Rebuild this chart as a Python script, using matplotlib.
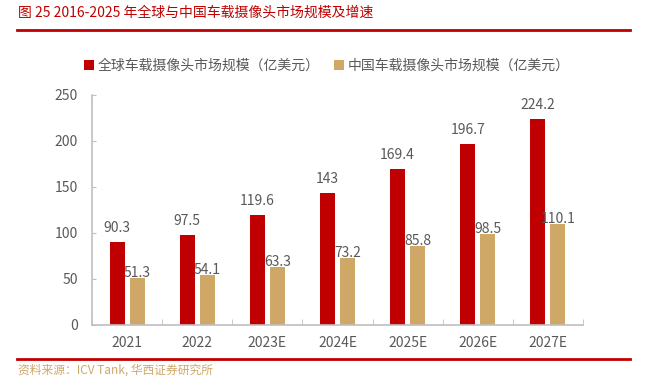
import matplotlib
matplotlib.use("Agg")
import matplotlib.pyplot as plt
import numpy as np

plt.rcParams['font.family'] = ['Noto Sans CJK SC', 'DejaVu Sans']

# data
years = ['2021', '2022', '2023E', '2024E', '2025E', '2026E', '2027E']
global_market = [90.3, 97.5, 119.6, 143, 169.4, 196.7, 224.2]
china_market = [51.3, 54.1, 63.3, 73.2, 85.8, 98.5, 110.1]

red = '#C00000'
tan = '#CFA868'
grey = '#595959'

W, H = 651, 379
fig = plt.figure(figsize=(W / 100, H / 100), dpi=100)

# axes: x 92..583 px, y 95..325 px
ax = fig.add_axes([92 / W, 1 - 325 / H, (583 - 92) / W, (325 - 95) / H])

x = np.arange(len(years))
bw = 0.215
off = 0.143
ax.bar(x - off, global_market, bw, color=red, label='全球车载摄像头市场规模（亿美元）')
ax.bar(x + off, china_market, bw, color=tan, label='中国车载摄像头市场规模（亿美元）')

for xi, v in zip(x, global_market):
    ax.annotate(f'{v:g}', (xi - off, v), xytext=(0, 5), textcoords='offset points',
                ha='center', va='bottom', fontsize=10, color=grey)
for xi, v in zip(x, china_market):
    ax.annotate(f'{v:g}', (xi + off, v), xytext=(0, -1.5), textcoords='offset points',
                ha='center', va='bottom', fontsize=10, color=grey)

ax.set_xlim(-0.5, len(years) - 0.5)
ax.set_ylim(0, 250)
ax.set_yticks(range(0, 251, 50))
ax.set_xticks(x)
ax.set_xticklabels(years)
ax.set_xticks(np.arange(-0.5, len(years)), minor=True)
ax.tick_params(axis='x', which='major', length=0, pad=8, labelsize=10, labelcolor=grey)
ax.tick_params(axis='x', which='minor', direction='in', length=4, color='#BFBFBF')
ax.tick_params(axis='y', direction='in', length=3, color='#BFBFBF', labelsize=10,
               labelcolor=grey, pad=10)
for s in ['top', 'right']:
    ax.spines[s].set_visible(False)
for s in ['left', 'bottom']:
    ax.spines[s].set_color('#BFBFBF')
    ax.spines[s].set_linewidth(1.2)

leg = fig.legend(loc='center', bbox_to_anchor=(327 / W, 1 - 66 / H), ncol=2, frameon=False,
                 fontsize=10, handlelength=0.7, handleheight=0.7, handletextpad=0.3,
                 columnspacing=1.0)
for t in leg.get_texts():
    t.set_color(grey)

# title and rules
fig.text(18 / W, 1 - 13 / H, '图 25 2016-2025 年全球与中国车载摄像头市场规模及增速',
         color=red, fontsize=10, ha='left', va='center')
fig.add_artist(plt.Line2D([17 / W, 630 / W], [1 - 30 / H, 1 - 30 / H], color=red, lw=2))
fig.add_artist(plt.Line2D([17 / W, 630 / W], [1 - 359 / H, 1 - 359 / H], color=red, lw=2))
fig.text(18 / W, 1 - 370 / H, '资料来源：ICV Tank, 华西证券研究所', color=tan, fontsize=8.5,
         ha='left', va='center')

fig.savefig('out.png', dpi=100)
